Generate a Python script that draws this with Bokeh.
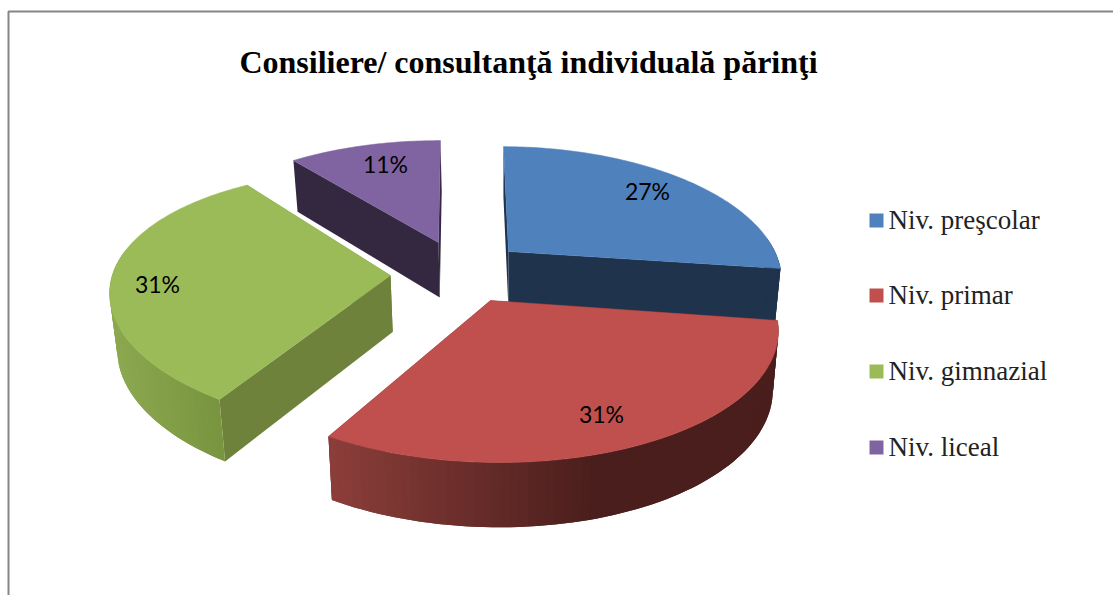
import math
from bokeh.plotting import figure
from bokeh.models import Range1d
from bokeh.core.properties import value
from bokeh.embed import file_html
from bokeh.resources import INLINE

title_text = "Consiliere/ consultanţă individuală părinţi"
categories = ["Niv. preşcolar", "Niv. primar", "Niv. gimnazial", "Niv. liceal"]
shares = [27, 31, 31, 11]

# --- styling / layout (page pixels) ---
top_colors = ["#4f81bd", "#bf504d", "#9bbb59", "#8064a2"]
face_colors = ["#1f334c", "#4a1e1c", "#6e823c", "#33283f"]
apexes = [(508, 251), (490, 300), (390, 275), (438, 242)]
label_xy = [(647, 190), (601, 413), (157, 283), (385, 163)]
# per-slice view correction of the projected disc (a, b, c, d)
view = [
    (0.939, 0.0485, 0.0031, 1.019),
    (0.993, 0.0142, 0.0112, 1.060),
    (0.961, -0.0958, 0.0451, 1.011),
    (0.932, -0.0194, 0.0027, 0.990),
]
# wall gradient: x0, rgb0, x1, rgb1
wall_grad = [
    (500, (31, 51, 76), 780, (31, 51, 76)),
    (330, (140, 62, 58), 600, (74, 30, 28)),
    (112, (140, 168, 80), 224, (120, 148, 62)),
    (290, (51, 40, 63), 440, (51, 40, 63)),
]
R, Q, K = 284.0, 123.0, 0.195
draw_order = [3, 0, 2, 1]


def rim(i, deg):
    t = math.radians(deg)
    u, v = math.sin(t), math.cos(t)
    s = 1 / (1 + K * v)
    dx, dy = R * u * s, -Q * v * s
    a, b, c, d = view[i]
    ax, ay = apexes[i]
    return ax + a * dx + b * dy, ay + c * dx + d * dy


def drop(x, y):
    return 500 + (x - 500) * 0.98, y + 44 + 0.045 * y


def shade(i, x):
    x0, c0, x1, c1 = wall_grad[i]
    f = max(0.0, min(1.0, (x - x0) / (x1 - x0)))
    return "#%02x%02x%02x" % tuple(round(a + (b - a) * f) for a, b in zip(c0, c1))


p = figure(width=1113, height=595, output_backend="svg", toolbar_location=None,
           x_range=Range1d(0, 1113), y_range=Range1d(595, 0),
           min_border=0, outline_line_color=None, background_fill_color="white",
           border_fill_color="white")
p.axis.visible = False
p.grid.visible = False

# chart frame
p.line([8, 8, 1113], [595, 11, 11], line_color="#868686", line_width=2)

total = sum(shares)
bounds = [0.0]
for s in shares:
    bounds.append(bounds[-1] + 360.0 * s / total)

for i in draw_order:
    a0, a1 = bounds[i], bounds[i + 1]
    ax, ay = apexes[i]
    # flat radial faces
    for ang in (a0, a1):
        rx, ry = rim(i, ang)
        bx, by = drop(ax, ay)
        brx, bry = drop(rx, ry)
        p.patch([ax, rx, brx, bx], [ay, ry, bry, by], fill_color=face_colors[i],
                line_color=None)
    # outer wall, split in strips (each overlaps the next) for the shading
    n = max(12, int((a1 - a0) / 1.5))
    xs, ys, cols = [], [], []
    for k in range(n):
        t0 = a0 + (a1 - a0) * k / n
        t1 = a0 + (a1 - a0) * min(n, k + 2) / n
        if math.cos(math.radians(t0 + (a1 - a0) / (2 * n))) > 0.1:
            continue
        x0, y0 = rim(i, t0)
        x1, y1 = rim(i, t1)
        xm, ym = rim(i, (t0 + t1) / 2)
        pts = [(x0, y0), (xm, ym), (x1, y1)]
        low = [drop(*q) for q in reversed(pts)]
        xs.append([q[0] for q in pts + low])
        ys.append([q[1] for q in pts + low])
        cols.append(shade(i, x0))
    if xs:
        p.patches(xs, ys, fill_color=cols, line_color=None)
    # top face
    m = max(24, int(a1 - a0))
    px, py = [ax], [ay]
    for k in range(m + 1):
        x, y = rim(i, a0 + (a1 - a0) * k / m)
        px.append(x)
        py.append(y)
    p.patch(px, py, fill_color=top_colors[i], line_color=top_colors[i], line_width=0.5)

# percent labels
p.text([c[0] for c in label_xy], [c[1] for c in label_xy],
       text=[f"{v}%" for v in shares], text_font=value("Lato"), text_font_size="23px",
       text_color="black", text_align="center", text_baseline="middle")

# title
p.text([528], [61], text=[title_text], text_font=value("Liberation Serif"),
       text_font_style="bold", text_font_size="32px", text_color="black",
       text_align="center", text_baseline="middle")

# legend
leg_y = [220, 295, 371, 447]
p.quad(left=[869] * 4, right=[883] * 4, top=[y - 7 for y in leg_y],
       bottom=[y + 7 for y in leg_y], fill_color=top_colors, line_color=None)
p.text([888] * 4, [y - 1 for y in leg_y], text=categories,
       text_font=value("Liberation Serif"), text_font_size="27px", text_color="#222222",
       text_align="left", text_baseline="middle")

open("out.html", "w").write(file_html(p, INLINE))
